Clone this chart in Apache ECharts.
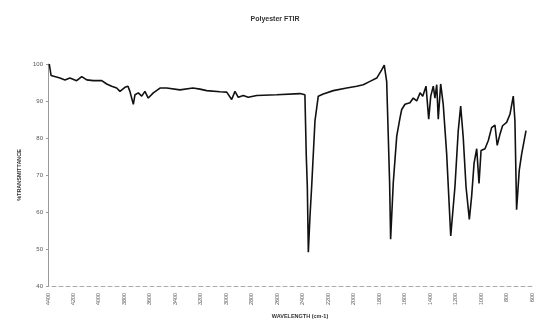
<!DOCTYPE html>
<html>
<head>
<meta charset="utf-8">
<script src="https://cdn.jsdelivr.net/npm/echarts@6/dist/echarts.min.js"></script>
<style>html,body{margin:0;padding:0;background:#fff;}#c{width:544px;height:324px;}</style>
</head>
<body>
<div id="c"></div>
<script>
const title = "Polyester FTIR";
const xName = "WAVELENGTH (cm-1)";
const yName = "%TRANSMITTANCE";
const wavenumbers = [4390,4376,4306,4267,4228,4175,4135,4096,4044,3978,3939,3900,3861,3835,3796,3772,3757,3730,3717,3691,3664,3639,3613,3573,3521,3468,3364,3262,3207,3154,3050,2997,2958,2932,2906,2867,2828,2761,2604,2422,2383,2372,2364,2356,2343,2330,2304,2278,2239,2160,2055,1976,1925,1872,1819,1780,1760,1741,1728,1718,1710,1689,1662,1636,1623,1597,1558,1532,1505,1479,1458,1432,1411,1395,1375,1362,1348,1336,1317,1297,1270,1238,1205,1179,1160,1140,1118,1092,1074,1055,1034,1016,1000,969,943,917,891,873,851,831,799,773,747,734,721,700,681,647];
const transmittance = [100.0,96.9,96.2,95.7,96.2,95.5,96.6,95.7,95.5,95.5,94.6,94.0,93.5,92.6,93.7,94.0,92.6,89.1,91.7,92.2,91.3,92.6,90.8,92.2,93.5,93.5,93.0,93.5,93.2,92.8,92.5,92.4,90.4,92.6,91.0,91.5,91.0,91.5,91.7,92.0,91.7,75.0,66.8,49.1,58.9,66.8,84.6,91.3,91.9,92.8,93.5,94.0,94.4,95.3,96.2,98.4,99.7,95.3,80.0,68.0,52.6,68.0,80.5,85.5,87.7,89.1,89.5,90.8,90.0,92.2,91.3,94.0,85.1,91.3,94.0,90.8,94.4,85.1,94.6,89.1,75.7,53.5,66.8,82.0,88.6,80.2,66.8,58.0,64.2,73.1,77.1,67.7,76.6,77.1,79.3,82.8,83.5,78.0,81.1,83.3,84.2,86.4,91.3,84.6,60.6,71.3,75.7,82.0];
const xTicks = {min: 600, max: 4400, interval: 200};
const yTicks = {min: 40, max: 100, interval: 10};

const chart = echarts.init(document.getElementById('c'), null, {renderer: 'canvas'});
const data = wavenumbers.map((w, i) => [w, transmittance[i]]);
chart.setOption({
  animation: false,
  backgroundColor: '#fff',
  title: {
    text: title, left: 270, top: 11, textAlign: 'center',
    textStyle: {fontSize: 7, fontWeight: 'bold', color: '#333', fontFamily: 'Liberation Sans'}
  },
  grid: {left: 48, right: 12, top: 64, bottom: 35},
  xAxis: {
    type: 'value', inverse: true,
    min: xTicks.min, max: xTicks.max, interval: xTicks.interval,
    name: xName, nameLocation: 'middle', nameGap: 27,
    nameTextStyle: {fontSize: 5.5, fontWeight: 'bold', color: '#333', fontFamily: 'Liberation Sans', padding: [0, 0, 0, 20]},
    axisLine: {show: true, lineStyle: {color: '#aaa', width: 1, type: [4, 3]}},
    axisTick: {show: false},
    splitLine: {show: false},
    axisLabel: {rotate: 90, fontSize: 5.5, color: '#555', margin: 7, fontFamily: 'Liberation Sans',
      formatter: v => String(v)}
  },
  yAxis: {
    type: 'value',
    min: yTicks.min, max: yTicks.max, interval: yTicks.interval,
    name: yName, nameLocation: 'middle', nameGap: 22, nameRotate: 90,
    nameTextStyle: {fontSize: 5.5, fontWeight: 'bold', color: '#333', fontFamily: 'Liberation Sans', padding: [0, 0, 0, 0]},
    axisLine: {show: true, lineStyle: {color: '#999', width: 1}},
    axisTick: {show: true, length: 2, inside: false, lineStyle: {color: '#999'}},
    splitLine: {show: false},
    axisLabel: {fontSize: 6, color: '#555', margin: 5, fontFamily: 'Liberation Sans',
      formatter: v => String(v)}
  },
  series: [{
    type: 'line', data: data, showSymbol: false, symbol: 'none',
    lineStyle: {color: '#111', width: 1.6}
  }]
});
</script>
</body>
</html>
